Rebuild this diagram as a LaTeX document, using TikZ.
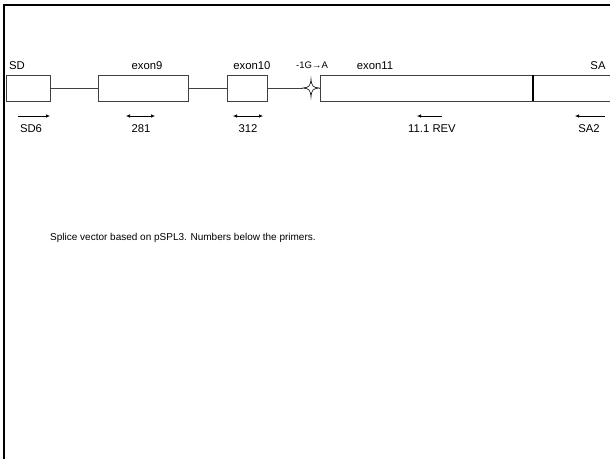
\documentclass[tikz,border=0pt]{standalone}
\usepackage{fontspec}
\setmainfont{Liberation Sans}
\usetikzlibrary{arrows.meta}
\tikzset{
  exonbox/.style={draw=black!75, line width=0.9pt, minimum height=26pt, inner sep=0pt, anchor=west},
  lbl/.style={font=\fontsize{11.3}{13}\selectfont},
  primer/.style={-{Latex[length=4pt,width=3.5pt]}, line width=0.6pt},
  both/.style={{Latex[length=4pt,width=3.5pt]}-{Latex[length=4pt,width=3.5pt]}, line width=0.6pt}
}
\begin{document}
\begin{tikzpicture}[x=1pt,y=-1pt]
\useasboundingbox (0,0) rectangle (610,459);
\draw[line width=2pt] (610,5) -- (4,5) -- (4,459);
% vector
\node[exonbox, minimum width=44pt] (sd) at (6,88) {};
\node[exonbox, minimum width=90pt] (ex9) at (98,88) {};
\node[exonbox, minimum width=40pt] (ex10) at (227,88) {};
\node[exonbox, minimum width=213pt] (ex11) at (320,88) {};
\node[exonbox, minimum width=90pt] (sa) at (533,88) {};
\draw[line width=1.4pt] (sa.north west) -- (sa.south west);
\coordinate (mut) at (311,88);
\draw[line width=0.6pt, fill=white, shift={(mut)}] (-8,0)
  .. controls (-2,-0.5) and (-0.5,-2) .. (0,-9)
  .. controls (0.5,-2) and (2,-0.5) .. (8,0)
  .. controls (2,0.5) and (0.5,2) .. (0,9)
  .. controls (-0.5,2) and (-2,0.5) .. (-8,0) -- cycle;
\draw[line width=0.9pt, black!75] (sd.east) -- (ex9.west);
\draw[line width=0.9pt, black!75] (ex9.east) -- (ex10.west);
\draw[line width=0.9pt, black!75] (ex10.east) -- ([xshift=-8pt]mut);
\draw[line width=0.9pt, black!75] ([xshift=8pt]mut) -- (ex11.west);
% names
\node[lbl] (sdname) at (17,66) {SD};
\node[lbl] (ex9name) at (147,66) {exon9};
\node[lbl] (ex10name) at (252,66) {exon10};
\node[font=\fontsize{9.5}{11}\selectfont] (mutname) at (312,65) {-1G→A};
\node[lbl] (ex11name) at (375,66) {exon11};
\node[lbl] (saname) at (598,66) {SA};
% primers
\coordinate (sd6a) at (18,116); \coordinate (sd6b) at (50,116);
\draw[primer] (sd6a) -- (sd6b);
\node[lbl] (sd6) at (31,129) {SD6};
\coordinate (p281a) at (126,116); \coordinate (p281b) at (155,116);
\draw[both] (p281a) -- (p281b);
\node[lbl] (p281) at (141,129) {281};
\coordinate (p312a) at (233,116); \coordinate (p312b) at (263,116);
\draw[both] (p312a) -- (p312b);
\node[lbl] (p312) at (248,129) {312};
\coordinate (revA) at (442,116); \coordinate (revB) at (417,116);
\draw[primer] (revA) -- (revB);
\node[lbl] (rev) at (432,129) {11.1 REV};
\coordinate (sa2a) at (605,116); \coordinate (sa2b) at (575,116);
\draw[primer] (sa2a) -- (sa2b);
\node[lbl] (sa2) at (589,129) {SA2};
% caption
\node[anchor=west, inner sep=0pt, font=\fontsize{10}{12}\selectfont] (caption) at (50,238)
  {Splice vector based on pSPL3. Numbers below the primers.};
\end{tikzpicture}
\end{document}
